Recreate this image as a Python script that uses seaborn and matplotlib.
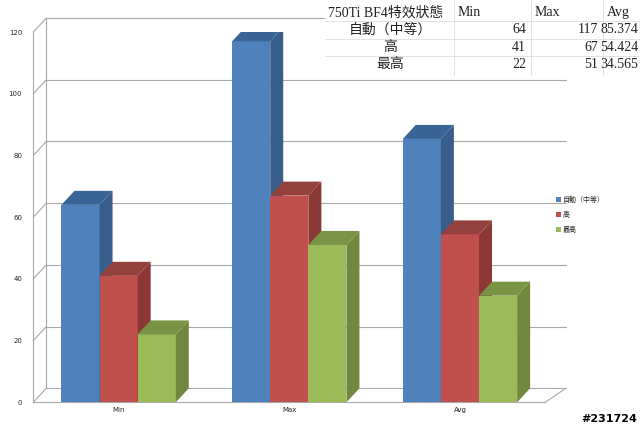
import matplotlib
matplotlib.use("Agg")
import matplotlib.pyplot as plt
import seaborn as sns
import pandas as pd
import numpy as np
from matplotlib.patches import Polygon

categories = ["Min", "Max", "Avg"]
series = ["自動（中等）", "高", "最高"]
vals_auto = [64, 117, 85.374]
vals_high = [41, 67, 54.424]
vals_top = [22, 51, 34.565]
table_labels = ["64", "117", "85.374", "41", "67", "54.424", "22", "51", "34.565"]
yticks = [0, 20, 40, 60, 80, 100, 120]

front = ["#4F81BD", "#C0504D", "#9BBB59"]
side = ["#385D8A", "#8C3836", "#71893F"]
topc = ["#3A6496", "#94403D", "#7A9446"]

rows = []
for s, v in zip(series, [vals_auto, vals_high, vals_top]):
    for c, x in zip(categories, v):
        rows.append({"cat": c, "series": s, "val": x})
df = pd.DataFrame(rows)

sns.set_style("white")
plt.rcParams['font.family'] = ['DejaVu Sans', 'Noto Sans CJK TC']
fig = plt.figure(figsize=(6.4, 4.28), dpi=100)
ax = fig.add_axes([0.052, 0.06, 0.80, 0.865])
sns.barplot(data=df, x="cat", y="val", hue="series", palette=front,
            width=0.67, ax=ax, saturation=1, legend=False, linewidth=0)
ax.set_xlim(-0.5, 2.5)
ax.set_ylim(0, 120)
dx = 13 / (512 / 3)
dy = 14 / (370 / 120)

gc = "#A8A8A8"
for t in yticks:
    ax.plot([-0.5, -0.5 + dx], [t, t + dy], color=gc, lw=0.8, zorder=1, clip_on=False)
    ax.plot([-0.5 + dx, 2.62], [t + dy, t + dy], color=gc, lw=0.8, zorder=1, clip_on=False)
ax.plot([-0.5 + dx, -0.5 + dx], [dy, 120 + dy], color=gc, lw=0.8, zorder=1, clip_on=False)
ax.plot([-0.5, -0.5], [0, 120], color=gc, lw=0.8, zorder=1, clip_on=False)
ax.plot([2.5, 2.62], [0, dy], color=gc, lw=0.8, zorder=1, clip_on=False)
ax.plot([-0.5, 2.5], [0, 0], color=gc, lw=0.8, zorder=1, clip_on=False)

bars = list(ax.patches)
order = sorted(range(len(bars)), key=lambda i: bars[i].get_x())
for rank, i in enumerate(order):
    p = bars[i]
    si = i // 3
    z = 3 + rank
    p.set_zorder(z)
    x0, w, h = p.get_x(), p.get_width(), p.get_height()
    ax.add_patch(Polygon([(x0 + w, 0), (x0 + w + dx, dy), (x0 + w + dx, h + dy), (x0 + w, h)],
                         closed=True, fc=side[si], ec="none", zorder=z))
    ax.add_patch(Polygon([(x0, h), (x0 + dx, h + dy), (x0 + w + dx, h + dy), (x0 + w, h)],
                         closed=True, fc=topc[si], ec="none", zorder=z))

for s in ax.spines.values():
    s.set_visible(False)
ax.set_yticks(yticks)
ax.set_yticklabels([str(t) for t in yticks], fontsize=5)
ax.tick_params(axis="x", labelsize=5, length=0)
ax.tick_params(axis="y", length=0, pad=8)
ax.set_xlabel("")
ax.set_ylabel("")

for k, s in enumerate(series):
    yy = 0.535 - k * 0.035
    fig.patches.append(plt.Rectangle((0.868, yy - 0.006), 0.008, 0.011, transform=fig.transFigure,
                                     fc=front[k], ec="none"))
    fig.text(0.879, yy, s, fontsize=5, va="center", ha="left")

fig.patches.append(plt.Rectangle((0.508, 0.825), 0.492, 0.175, transform=fig.transFigure,
                                 fc="white", ec="none", zorder=5))
tf = ['Liberation Serif', 'Noto Sans CJK TC']
fs = 10
colx = [0.512, 0.715, 0.835, 0.948]
rowy = [0.97, 0.93, 0.89, 0.85]
fig.text(colx[0], rowy[0], "750Ti BF4特效狀態", fontsize=fs, family=tf, va="center", zorder=6, color="#222")
for j, c in enumerate(categories):
    fig.text(colx[j + 1], rowy[0], c, fontsize=fs, family=tf, va="center", zorder=6, color="#222")
for r, s in enumerate(series):
    fig.text(0.61, rowy[r + 1], s, fontsize=fs, family=tf, va="center", ha="center", zorder=6, color="#222")
    for j in range(3):
        fig.text([0.822, 0.935, 0.997][j], rowy[r + 1], table_labels[r * 3 + j], fontsize=fs,
                 family=tf, va="center", ha="right", zorder=6, color="#222")
for xx in [0.71, 0.83, 0.942]:
    fig.lines.append(plt.Line2D([xx, xx], [0.825, 1.0], transform=fig.transFigure, color="#DDDDDD", lw=0.6, zorder=6))
for yy in [0.95, 0.91, 0.87]:
    fig.lines.append(plt.Line2D([0.508, 1.0], [yy, yy], transform=fig.transFigure, color="#DDDDDD", lw=0.6, zorder=6))

fig.text(0.995, 0.01, "#231724", fontsize=8, ha="right", va="bottom", color="black", weight="bold")
fig.savefig("out.png", dpi=100)
